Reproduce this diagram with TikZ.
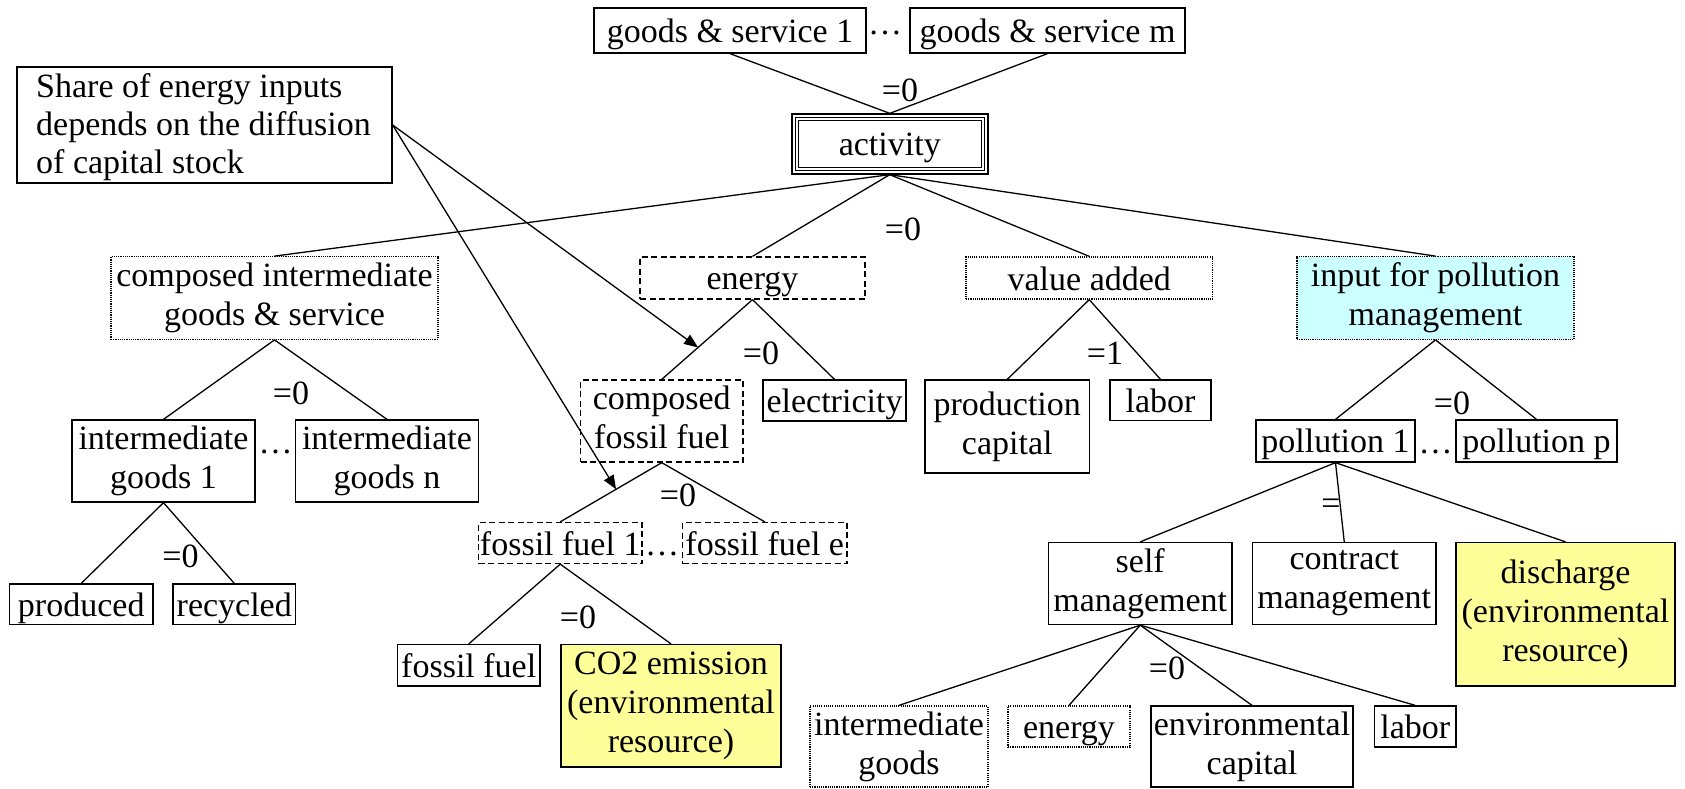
\documentclass[tikz,border=0pt]{standalone}
\usepackage{fontspec}
\setmainfont{Liberation Serif}
\usetikzlibrary{calc,arrows.meta}
\definecolor{paleaqua}{HTML}{CCFFFF}
\definecolor{paleyellow}{HTML}{FFFF99}
% line strut: 31pt above and 7pt below the baseline
\newcommand\linestrut{\rule[-7pt]{0pt}{38pt}}
\tikzset{
  txt/.style={font=\fontsize{34}{39}\selectfont},
  box/.style={txt, draw, line width=1.3pt, inner sep=0pt, align=center,
    execute at begin node=\linestrut, execute at end node=\linestrut},
  dotbox/.style={box, dash pattern=on 1.1pt off 1.1pt},
  dashbox/.style={box, dash pattern=on 6pt off 3.5pt},
  link/.style={line width=1.3pt},
  pointer/.style={line width=1.3pt, -{Triangle[length=14pt,width=11pt]}},
  lbl/.style={txt, inner sep=0pt},
  noteline/.style={txt, inner sep=0pt, anchor=base west},
}
\begin{document}
\begin{tikzpicture}[x=1pt,y=-1pt]
\useasboundingbox (0,0) rectangle (1685,788);

% ---- top level: outputs and activity
\node[box, minimum width=272pt, minimum height=45pt] (gs1) at (730,30.5) {goods \& service 1};
\node[box, minimum width=275pt, minimum height=45pt] (gsm) at (1047.5,30.5) {goods \& service m};
\node[lbl] (gsdots) at (885,33) {…};
\node[box, draw=none, minimum width=196.5pt, minimum height=60pt] (act) at (889.75,144) {activity};
\draw[line width=2pt] ($(act.north west)+(1,1)$) rectangle ($(act.south east)+(-1,-1)$);
\draw[line width=1.1pt] ($(act.north west)+(4.3,4.3)$) rectangle ($(act.south east)+(-4.3,-4.3)$);
\draw[line width=1.1pt] ($(act.north west)+(7.3,7.3)$) rectangle ($(act.south east)+(-7.3,-7.3)$);
\node[lbl] (l0) at (900,90) {=0};

% ---- note box, one node per printed line
\node[draw, line width=1.3pt, minimum width=375pt, minimum height=116pt] (share) at (204.5,125) {};
\node[noteline] (note1) at (36,97) {Share of energy inputs};
\node[noteline] (note2) at (36,135) {depends on the diffusion};
\node[noteline] (note3) at (36,173) {of capital stock};

% ---- second level
\node[dotbox, minimum width=327pt, minimum height=82.5pt] (cig) at (274.5,298) {composed intermediate\\goods \& service};
\node[dashbox, minimum width=225pt, minimum height=42pt] (en) at (752.5,278) {energy};
\node[dotbox, minimum width=246.5pt, minimum height=42pt] (va) at (1089.25,278) {value added};
\node[dotbox, fill=paleaqua, minimum width=277pt, minimum height=82.5pt] (ipm) at (1435.5,298) {input for pollution\\management};
\node[lbl] (l1) at (903,229) {=0};

% ---- third level
\node[box, minimum width=183pt, minimum height=82pt] (ig1) at (163.5,461) {intermediate\\goods 1};
\node[box, minimum width=183pt, minimum height=82pt] (ign) at (387,461) {intermediate\\goods n};
\node[lbl, anchor=base] (igdots) at (275.5,453.5) {…};
\node[lbl] (l2) at (291,393) {=0};

\node[dashbox, minimum width=162.5pt, minimum height=82pt] (cff) at (661.75,421) {composed\\fossil fuel};
\node[box, minimum width=143pt, minimum height=41pt] (elec) at (834.5,400.5) {electricity};
\node[lbl] (l3) at (761,353) {=0};

\node[box, minimum width=164.5pt, minimum height=93pt] (pc) at (1007.25,426.5) {production\\capital};
\node[box, minimum width=101pt, minimum height=40.5pt] (lab) at (1160.5,400.25) {labor};
\node[lbl] (l4) at (1105,353) {=1};

\node[box, minimum width=159pt, minimum height=42pt] (p1) at (1335.5,441) {pollution 1};
\node[box, minimum width=161pt, minimum height=42pt] (pp) at (1536.5,441) {pollution p};
\node[lbl, anchor=base] (pdots) at (1435.5,453) {…};
\node[lbl] (l5) at (1452,403) {=0};

% ---- fourth level
\node[box, minimum width=143.5pt, minimum height=40.5pt] (prod) at (81.25,604.25) {produced};
\node[box, minimum width=122.5pt, minimum height=40.5pt] (rec) at (234.25,604.25) {recycled};
\node[lbl] (l6) at (180.5,556) {=0};

\node[dashbox, minimum width=163.5pt, minimum height=41pt] (ff1) at (560.25,543) {fossil fuel 1};
\node[dashbox, minimum width=164.5pt, minimum height=41pt] (ffe) at (764.75,543) {fossil fuel e};
\node[lbl, anchor=base] (ffdots) at (662,555) {…};
\node[lbl] (l7) at (678,495) {=0};

\node[box, minimum width=142.5pt, minimum height=41.5pt] (ff) at (468.75,665.25) {fossil fuel};
\node[box, fill=paleyellow, minimum width=220pt, minimum height=122.5pt] (co2) at (671,705.75) {CO2 emission\\(environmental\\resource)};
\node[lbl] (l8) at (578,617) {=0};

\node[box, minimum width=183.5pt, minimum height=82pt] (sm) at (1140.25,583.5) {self\\management};
\node[box, minimum width=183.5pt, minimum height=82pt] (cm) at (1344.25,583.5) {contract\\management};
\node[box, fill=paleyellow, minimum width=219pt, minimum height=143.5pt] (dis) at (1565.5,614.25) {discharge\\(environmental\\resource)};
\node[lbl] (l9) at (1331,507) {=};

% ---- inputs of self management
\node[dotbox, minimum width=178pt, minimum height=81pt] (sig) at (899,746.5) {intermediate\\goods};
\node[dotbox, minimum width=122pt, minimum height=41pt] (sen) at (1069,726.5) {energy};
\node[box, minimum width=202pt, minimum height=81pt] (sec) at (1252,746.5) {environmental\\capital};
\node[box, minimum width=81.5pt, minimum height=41pt] (slab) at (1415.25,726.5) {labor};
\node[lbl] (l10) at (1167,668) {=0};

% ---- tree connectors
\draw[link] (gs1.south) -- (act.north) -- (gsm.south);
\foreach \c in {cig,en,va,ipm} \draw[link] (act.south) -- (\c.north);
\foreach \c in {ig1,ign} \draw[link] (cig.south) -- (\c.north);
\foreach \c in {prod,rec} \draw[link] (ig1.south) -- (\c.north);
\foreach \c in {cff,elec} \draw[link] (en.south) -- (\c.north);
\foreach \c in {ff1,ffe} \draw[link] (cff.south) -- (\c.north);
\foreach \c in {ff,co2} \draw[link] (ff1.south) -- (\c.north);
\foreach \c in {pc,lab} \draw[link] (va.south) -- (\c.north);
\foreach \c in {p1,pp} \draw[link] (ipm.south) -- (\c.north);
\foreach \c in {sm,cm,dis} \draw[link] (p1.south) -- (\c.north);
\foreach \c in {sig,sen,sec,slab} \draw[link] (sm.south) -- (\c.north);

% ---- pointers from the note
\coordinate (tipA) at ($(en.south)!0.6!(cff.north)$);
\coordinate (tipB) at ($(cff.south)!0.45!(ff1.north)$);
\draw[pointer] (share.east) -- (tipA);
\draw[pointer] (share.east) -- (tipB);
\end{tikzpicture}
\end{document}
